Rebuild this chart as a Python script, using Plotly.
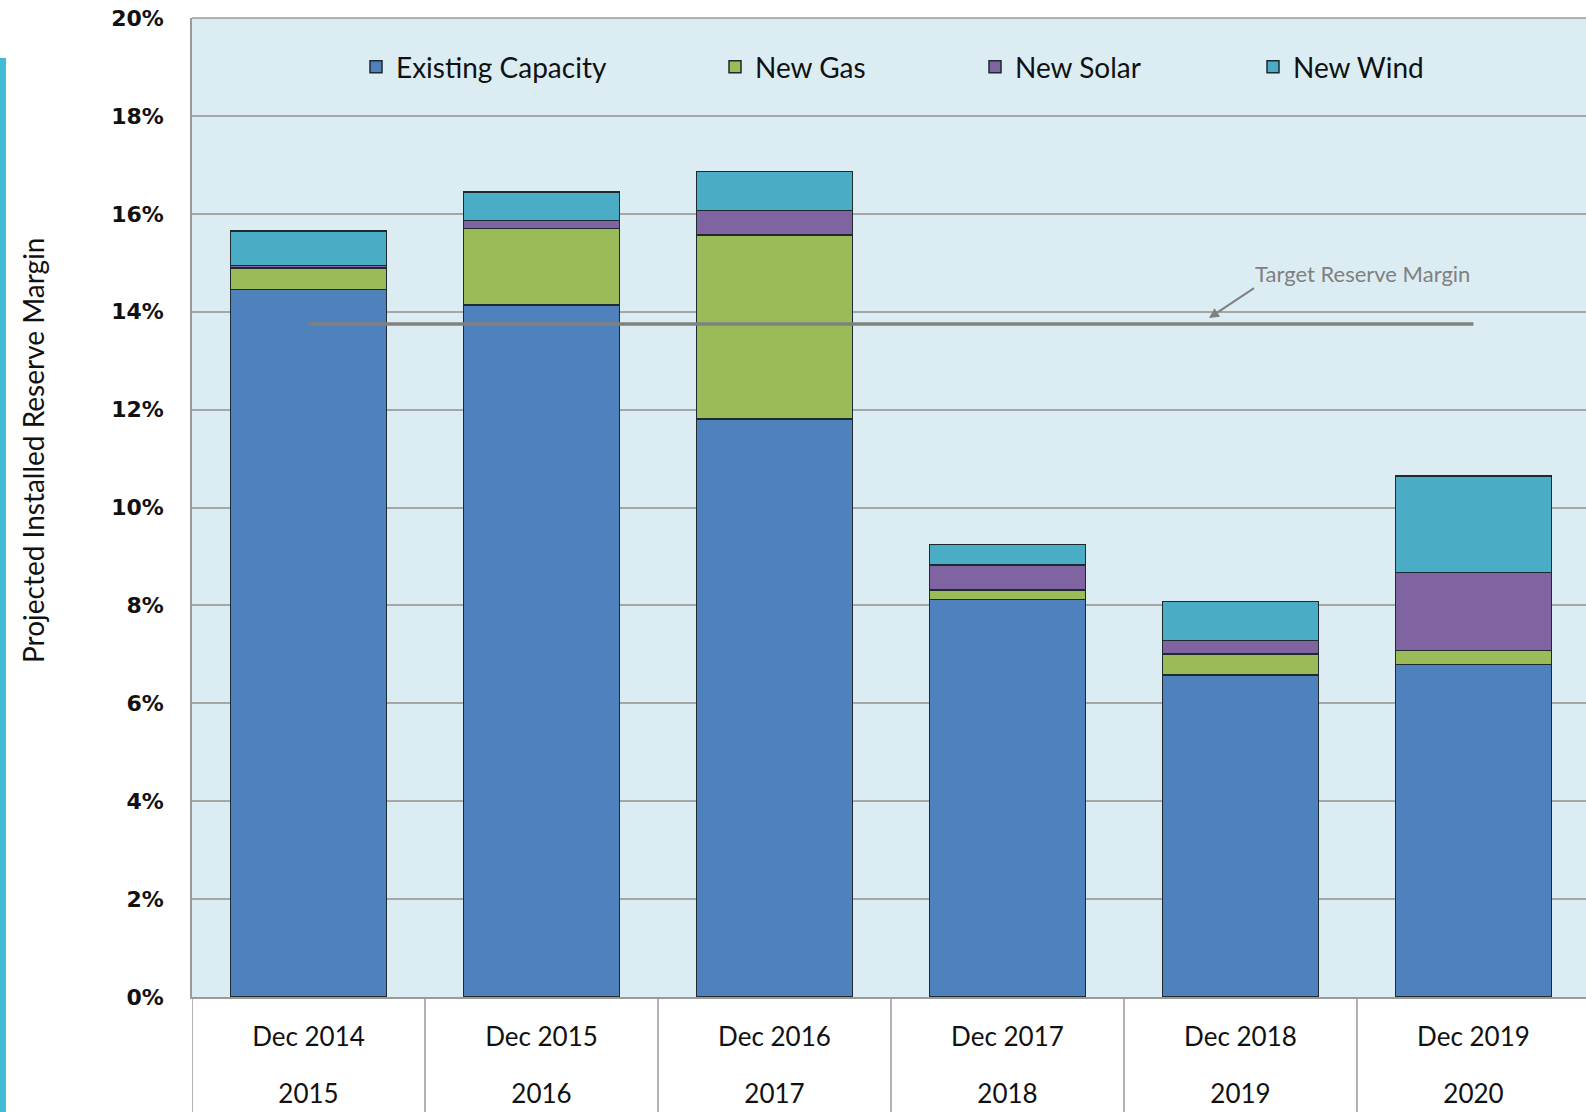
import plotly.graph_objects as go

months = ["Dec 2014", "Dec 2015", "Dec 2016", "Dec 2017", "Dec 2018", "Dec 2019"]
years = ["2015", "2016", "2017", "2018", "2019", "2020"]

existing = [14.45, 14.14, 11.81, 8.12, 6.58, 6.79]
new_gas = [0.44, 1.56, 3.76, 0.19, 0.43, 0.29]
new_solar = [0.05, 0.16, 0.50, 0.52, 0.27, 1.59]
new_wind = [0.71, 0.59, 0.79, 0.41, 0.80, 1.97]
target_margin = 13.75

series_names = ["Existing Capacity", "New Gas", "New Solar", "New Wind"]
series_values = [existing, new_gas, new_solar, new_wind]
colors = ["#4F81BD", "#9BBB59", "#8064A2", "#4BACC6"]
legend_ids = ["legend", "legend2", "legend3", "legend4"]

W, H = 1586, 1112
L, R, T, B = 192, 0, 18, 115
pw, ph = W - L - R, H - T - B

def px_x(p):
    return (p - L) / pw

def px_y(p):
    return (H - B - p) / ph

tick_text = [
    f"<span style='font-size:26px'>{m}</span><br><br><span style='font-size:26px'>{y}</span>"
    for m, y in zip(months, years)
]

fig = go.Figure()
for name, vals, col, lg in zip(series_names, series_values, colors, legend_ids):
    fig.add_trace(go.Bar(
        x=months, y=vals, name=name, legend=lg,
        marker=dict(color=col, line=dict(color="#1e2a30", width=1.5)),
    ))

fig.add_trace(go.Scatter(
    x=[months[0], months[-1]],
    y=[target_margin, target_margin],
    mode="lines", line=dict(color="#808080", width=3.5),
    showlegend=False, hoverinfo="skip",
))

legend_font = dict(family="Lato", size=28, color="#111111")
sym_centers = [376, 735, 995, 1273]
legends = {}
for lg, c in zip(legend_ids, sym_centers):
    legends[lg] = dict(
        x=px_x(c - 20), y=px_y(67), xanchor="left", yanchor="middle",
        orientation="h", bgcolor="rgba(0,0,0,0)", borderwidth=0,
        font=legend_font,
    )

divider_shapes = [
    dict(type="line", xref="x", yref="paper",
         x0=i - 0.5, x1=i - 0.5, y0=0, y1=px_y(H),
         line=dict(color="#9a9a9a", width=1.5))
    for i in range(len(months) + 1)
]

fig.update_layout(
    width=W, height=H,
    margin=dict(l=L, r=R, t=T, b=B, pad=0),
    paper_bgcolor="white",
    plot_bgcolor="#DBEDF3",
    barmode="stack",
    bargap=0.33,
    **legends,
    xaxis=dict(
        type="category",
        range=[-0.5, len(months) - 0.517],
        tickmode="array", tickvals=months, ticktext=tick_text,
        showline=True, linecolor="#9a9a9a", linewidth=1.5,
        showgrid=False, ticks="",
        tickfont=dict(family="Lato", size=22, color="#111111"),
        ticklabelstandoff=21,
    ),
    yaxis=dict(
        range=[0, 20], dtick=2, ticksuffix="%",
        showgrid=True, gridcolor="#a6a6a6", gridwidth=1.5,
        showline=True, linecolor="#9a9a9a", linewidth=1.5,
        mirror=False, zeroline=False,
        tickfont=dict(family="DejaVu Sans", size=22, color="#111111", weight="bold"),
        ticklabelstandoff=22,
    ),
    shapes=[
        dict(type="rect", xref="paper", yref="paper",
             x0=px_x(0), x1=px_x(6), y0=px_y(H), y1=px_y(58),
             fillcolor="#40BCD6", line=dict(width=0), layer="above"),
        dict(type="line", xref="paper", yref="paper",
             x0=0, x1=1, y0=1, y1=1, line=dict(color="#9a9a9a", width=1.5)),
    ] + divider_shapes,
    annotations=[
        dict(text="Projected Installed Reserve Margin", xref="paper", yref="paper",
             x=px_x(33), y=px_y(450), textangle=-90, showarrow=False,
             font=dict(family="Lato", size=28, color="#111111"),
             xanchor="center", yanchor="middle"),
        dict(text="Target Reserve Margin", xref="paper", yref="y",
             x=px_x(1209), y=13.87, ax=45, ay=-30,
             showarrow=True, arrowhead=2, arrowsize=1, arrowwidth=2,
             arrowcolor="#808080", xanchor="left", yanchor="bottom",
             borderpad=0,
             font=dict(family="Lato", size=22, color="#808080")),
    ],
)

fig.write_html("out.html", config={"displayModeBar": False},
               post_script="document.body.style.margin='0';")
